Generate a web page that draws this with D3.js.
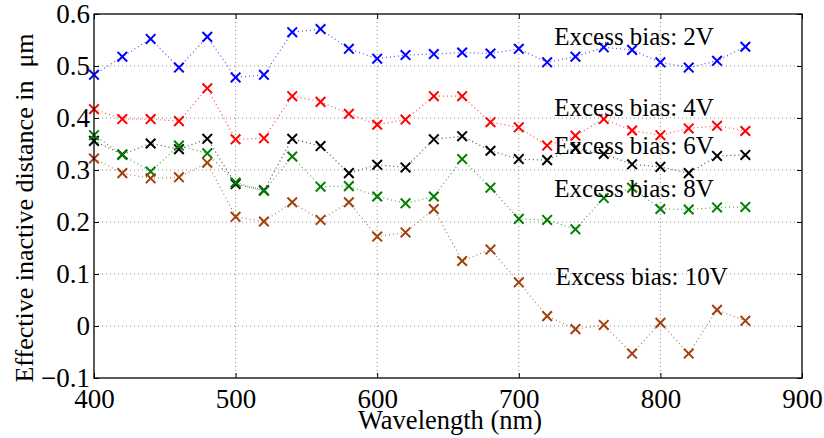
<!DOCTYPE html>
<html>
<head>
<meta charset="utf-8">
<script src="https://cdn.jsdelivr.net/npm/d3@7"></script>
<style>
  body { margin: 0; background: #fff; }
</style>
</head>
<body>
<svg class="chart"></svg>
<script>
const width = 824,
  height = 438;
const margin = { top: 14, right: 22, bottom: 60, left: 94 };
const serif = "'Liberation Serif', 'Times New Roman', Times, serif";

const wavelengths = [400, 420, 440, 460, 480, 500, 520, 540, 560, 580, 600, 620,
  640, 660, 680, 700, 720, 740, 760, 780, 800, 820, 840, 860];
const bias2 = [0.483, 0.518, 0.552, 0.497, 0.556, 0.478, 0.483, 0.565, 0.571, 0.533, 0.514, 0.521,
  0.523, 0.526, 0.524, 0.533, 0.507, 0.518, 0.536, 0.531, 0.507, 0.497, 0.510, 0.537];
const bias4 = [0.417, 0.398, 0.398, 0.394, 0.457, 0.359, 0.361, 0.442, 0.431, 0.408, 0.387, 0.397,
  0.442, 0.442, 0.392, 0.382, 0.347, 0.366, 0.398, 0.376, 0.367, 0.380, 0.385, 0.375];
const bias6 = [0.356, 0.330, 0.351, 0.340, 0.360, 0.273, 0.261, 0.360, 0.346, 0.294, 0.310, 0.305,
  0.359, 0.365, 0.337, 0.321, 0.319, 0.342, 0.331, 0.311, 0.306, 0.294, 0.327, 0.329];
const bias8 = [0.367, 0.329, 0.297, 0.347, 0.332, 0.276, 0.260, 0.326, 0.268, 0.269, 0.249, 0.236,
  0.249, 0.321, 0.266, 0.206, 0.204, 0.186, 0.246, 0.266, 0.225, 0.224, 0.228, 0.229];
const bias10 = [0.322, 0.294, 0.284, 0.286, 0.314, 0.210, 0.201, 0.238, 0.204, 0.238, 0.172, 0.180,
  0.225, 0.125, 0.147, 0.084, 0.019, -0.006, 0.002, -0.053, 0.006, -0.053, 0.031, 0.010];

const seriesNames = ["2V", "4V", "6V", "8V", "10V"];
const seriesValues = [bias2, bias4, bias6, bias8, bias10];
const colors = ["#0000ff", "#ff0000", "#000000", "#008000", "#a3400c"];

const labelText = ["Excess bias: 2V", "Excess bias: 4V", "Excess bias: 6V", "Excess bias: 8V", "Excess bias: 10V"];
const labelX = [725, 725, 725, 725, 726];
const labelY = [0.540, 0.404, 0.331, 0.249, 0.079];

const xTicks = [400, 500, 600, 700, 800, 900];
const yTicks = [-0.1, 0, 0.1, 0.2, 0.3, 0.4, 0.5, 0.6];

const plotW = width - margin.left - margin.right,
  plotH = height - margin.top - margin.bottom;

let x = d3.scaleLinear().domain([400, 900]).range([0, plotW]);
let y = d3.scaleLinear().domain([-0.1, 0.6]).range([plotH, 0]);

let svg = d3.select(".chart")
  .attr("width", width)
  .attr("height", height);

let g = svg.append("g")
  .attr("transform", `translate(${margin.left}, ${margin.top})`);

// grid
g.append("g")
  .selectAll("line")
  .data(xTicks.slice(1, -1))
  .join("line")
  .attr("x1", d => x(d)).attr("x2", d => x(d))
  .attr("y1", 0).attr("y2", plotH)
  .attr("stroke", "#888")
  .attr("stroke-dasharray", "1,3");
g.append("g")
  .selectAll("line")
  .data(yTicks.slice(1, -1))
  .join("line")
  .attr("y1", d => y(d)).attr("y2", d => y(d))
  .attr("x1", 0).attr("x2", plotW)
  .attr("stroke", "#888")
  .attr("stroke-dasharray", "1,3");

// series
seriesValues.forEach((vals, i) => {
  let pts = wavelengths.map((w, j) => [w, vals[j]]);
  g.append("path")
    .datum(pts)
    .attr("fill", "none")
    .attr("stroke", colors[i])
    .attr("stroke-width", 1.2)
    .attr("stroke-opacity", 0.7)
    .attr("stroke-dasharray", "1,3")
    .attr("d", d3.line().x(d => x(d[0])).y(d => y(d[1])));
});
seriesValues.forEach((vals, i) => {
  let pts = wavelengths.map((w, j) => [w, vals[j]]);
  g.append("g")
    .selectAll("path")
    .data(pts)
    .join("path")
    .attr("transform", d => `translate(${x(d[0])}, ${y(d[1])})`)
    .attr("d", d3.symbol(d3.symbolTimes, 62))
    .attr("fill", "none")
    .attr("stroke", colors[i])
    .attr("stroke-width", 2);
});

// axes
let xAxis = d3.axisBottom(x).tickValues(xTicks).tickSize(-5).tickPadding(0).tickFormat(d3.format("d"));
let yAxis = d3.axisLeft(y).tickValues(yTicks).tickSize(-5).tickPadding(0)
  .tickFormat(d => d === 0 ? "0" : d3.format(".1f")(d).replace("-", "\u2212"));

g.append("g")
  .attr("transform", `translate(0, ${plotH})`)
  .call(xAxis)
  .call(a => a.selectAll("text").attr("font-size", 27).attr("fill", "#000")
    .style("font-family", serif).attr("y", 30).attr("dy", null));
g.append("g")
  .call(yAxis)
  .call(a => a.selectAll("text").attr("font-size", 27).attr("fill", "#000")
    .style("font-family", serif).attr("x", -4));
g.append("g")
  .call(d3.axisTop(x).tickValues(xTicks).tickSize(-5).tickFormat(""));
g.append("g")
  .attr("transform", `translate(${plotW}, 0)`)
  .call(d3.axisRight(y).tickValues(yTicks).tickSize(-5).tickFormat(""));
g.selectAll(".domain").remove();
g.selectAll(".tick line").attr("stroke", "#000");

g.append("rect")
  .attr("width", plotW).attr("height", plotH)
  .attr("fill", "none")
  .attr("stroke", "#000")
  .attr("stroke-width", 1.3);

// annotations
g.append("g")
  .selectAll("text")
  .data(labelText)
  .join("text")
  .attr("x", (d, i) => x(labelX[i]))
  .attr("y", (d, i) => y(labelY[i]))
  .attr("font-size", 25)
  .style("font-family", serif)
  .text(d => d);

// axis labels
svg.append("text")
  .attr("x", margin.left + plotW / 2 + 2)
  .attr("y", 429)
  .attr("text-anchor", "middle")
  .attr("font-size", 26.5)
  .style("font-family", serif)
  .text("Wavelength (nm)");
svg.append("text")
  .attr("transform", `translate(33, 208) rotate(-90)`)
  .attr("text-anchor", "middle")
  .attr("font-size", 26)
  .style("font-family", serif)
  .style("white-space", "pre")
  .text("Effective inactive distance in  \u03bcm");
</script>
</body>
</html>
